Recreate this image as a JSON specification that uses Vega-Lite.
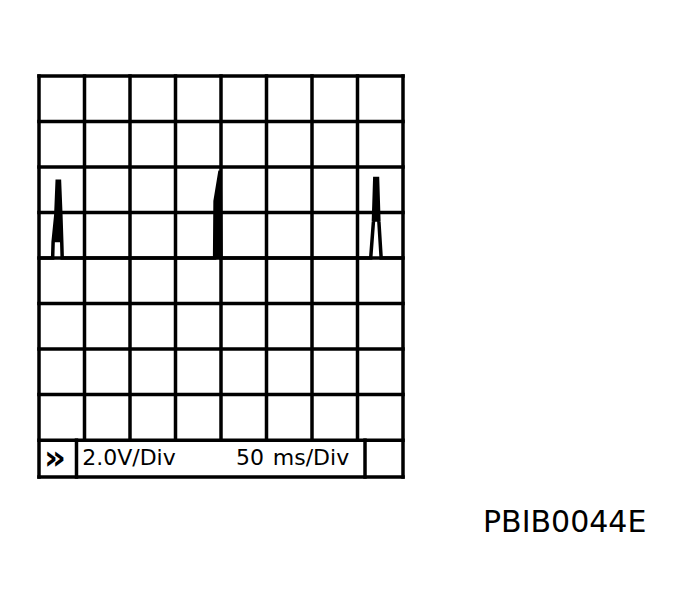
{
  "$schema": "https://vega.github.io/schema/vega-lite/v6.json",
  "width": 364,
  "height": 401,
  "autosize": "none",
  "padding": {"left": 39, "top": 76, "right": 276, "bottom": 129},
  "background": "white",
  "config": {"view": {"stroke": null}},
  "datasets": {
    "grid": [
      {"x": 0, "y": -4.81, "x2": 0, "y2": 4},
      {"x": 1, "y": -4, "x2": 1, "y2": 4},
      {"x": 2, "y": -4, "x2": 2, "y2": 4},
      {"x": 3, "y": -4, "x2": 3, "y2": 4},
      {"x": 4, "y": -4, "x2": 4, "y2": 4},
      {"x": 5, "y": -4, "x2": 5, "y2": 4},
      {"x": 6, "y": -4, "x2": 6, "y2": 4},
      {"x": 7, "y": -4, "x2": 7, "y2": 4},
      {"x": 8, "y": -4.81, "x2": 8, "y2": 4},
      {"x": 0.824, "y": -4.81, "x2": 0.824, "y2": -4},
      {"x": 7.165, "y": -4.81, "x2": 7.165, "y2": -4},
      {"x": 0, "y": 4, "x2": 8, "y2": 4},
      {"x": 0, "y": 3, "x2": 8, "y2": 3},
      {"x": 0, "y": 2, "x2": 8, "y2": 2},
      {"x": 0, "y": 1, "x2": 8, "y2": 1},
      {"x": 0, "y": 0, "x2": 8, "y2": 0},
      {"x": 0, "y": -1, "x2": 8, "y2": -1},
      {"x": 0, "y": -2, "x2": 8, "y2": -2},
      {"x": 0, "y": -3, "x2": 8, "y2": -3},
      {"x": 0, "y": -4, "x2": 8, "y2": -4},
      {"x": 0, "y": -4.81, "x2": 8, "y2": -4.81}
    ],
    "trace": [
      {"t": 0, "v": 0, "floor": 0, "spike": 0},
      {"t": 0.30, "v": 0, "floor": 0, "spike": 1},
      {"t": 0.31, "v": 0.35, "floor": 0.35, "spike": 1},
      {"t": 0.37, "v": 0.95, "floor": 0.35, "spike": 1},
      {"t": 0.40, "v": 1.69, "floor": 0.35, "spike": 1},
      {"t": 0.45, "v": 1.69, "floor": 0.35, "spike": 1},
      {"t": 0.48, "v": 0.95, "floor": 0.35, "spike": 1},
      {"t": 0.50, "v": 0.35, "floor": 0.35, "spike": 1},
      {"t": 0.51, "v": 0, "floor": 0, "spike": 1},
      {"t": 3.86, "v": 0, "floor": 0, "spike": 2},
      {"t": 3.87, "v": 1.25, "floor": 0, "spike": 2},
      {"t": 3.98, "v": 1.92, "floor": 0, "spike": 2},
      {"t": 4.0, "v": 0, "floor": 0, "spike": 2},
      {"t": 7.29, "v": 0, "floor": 0, "spike": 3},
      {"t": 7.35, "v": 0.8, "floor": 0.8, "spike": 3},
      {"t": 7.38, "v": 1.75, "floor": 0.8, "spike": 3},
      {"t": 7.44, "v": 1.75, "floor": 0.8, "spike": 3},
      {"t": 7.47, "v": 0.8, "floor": 0.8, "spike": 3},
      {"t": 7.52, "v": 0, "floor": 0, "spike": 3},
      {"t": 8, "v": 0, "floor": 0, "spike": 0}
    ],
    "scaleText": [
      {"x": 1.978, "y": -4.549, "text": "2.0V/Div"},
      {"x": 4.637, "y": -4.549, "text": "50"},
      {"x": 5.978, "y": -4.549, "text": "ms/Div"}
    ],
    "marker": [
      {"x": 0.35, "y": -4.41, "text": "»"}
    ],
    "code": [
      {"x": 9.758, "y": -6.022, "text": "PBIB0044E"}
    ]
  },
  "encoding": {
    "x": {"type": "quantitative", "scale": {"domain": [0, 8]}, "axis": null},
    "y": {"type": "quantitative", "scale": {"domain": [-4.81, 4], "nice": false}, "axis": null}
  },
  "layer": [
    {
      "data": {"name": "grid"},
      "mark": {"type": "rule", "color": "black", "strokeWidth": 3.5, "strokeCap": "square"},
      "encoding": {
        "x": {"field": "x", "type": "quantitative"},
        "x2": {"field": "x2"},
        "y": {"field": "y", "type": "quantitative"},
        "y2": {"field": "y2"}
      }
    },
    {
      "data": {"name": "trace"},
      "transform": [{"filter": "datum.spike > 0"}],
      "mark": {"type": "area", "color": "black"},
      "encoding": {
        "x": {"field": "t", "type": "quantitative"},
        "y": {"field": "v", "type": "quantitative"},
        "y2": {"field": "floor"},
        "detail": {"field": "spike"}
      }
    },
    {
      "data": {"name": "trace"},
      "mark": {"type": "line", "color": "black", "strokeWidth": 3.5},
      "encoding": {
        "x": {"field": "t", "type": "quantitative"},
        "y": {"field": "v", "type": "quantitative"}
      }
    },
    {
      "data": {"name": "scaleText"},
      "mark": {"type": "text", "font": "DejaVu Sans", "fontSize": 22, "align": "center", "baseline": "alphabetic", "color": "black"},
      "encoding": {
        "x": {"field": "x", "type": "quantitative"},
        "y": {"field": "y", "type": "quantitative"},
        "text": {"field": "text"}
      }
    },
    {
      "data": {"name": "marker"},
      "mark": {"type": "text", "font": "DejaVu Sans", "fontSize": 34, "fontWeight": "bold", "align": "center", "baseline": "middle", "color": "black"},
      "encoding": {
        "x": {"field": "x", "type": "quantitative"},
        "y": {"field": "y", "type": "quantitative"},
        "text": {"field": "text"}
      }
    },
    {
      "data": {"name": "code"},
      "mark": {"type": "text", "font": "DejaVu Sans", "fontSize": 30, "align": "left", "baseline": "alphabetic", "color": "black"},
      "encoding": {
        "x": {"field": "x", "type": "quantitative"},
        "y": {"field": "y", "type": "quantitative"},
        "text": {"field": "text"}
      }
    }
  ]
}
